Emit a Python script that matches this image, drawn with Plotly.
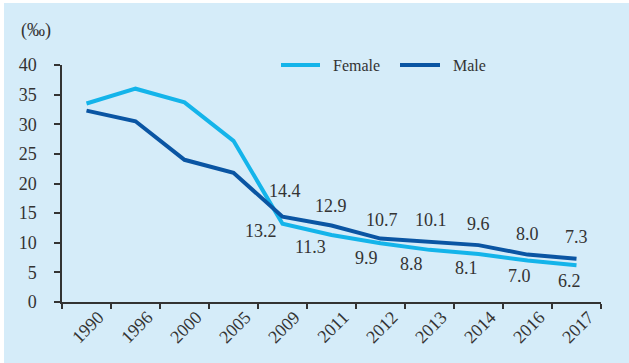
import plotly.graph_objects as go

# Infant mortality rate by sex (per mille)
years = ["1990", "1996", "2000", "2005", "2009", "2011", "2012", "2013", "2014", "2016", "2017"]
female = [33.5, 36.0, 33.7, 27.2, 13.2, 11.3, 9.9, 8.8, 8.1, 7.0, 6.2]
male = [32.3, 30.5, 24.0, 21.8, 14.4, 12.9, 10.7, 10.1, 9.6, 8.0, 7.3]
y_ticks = [0, 5, 10, 15, 20, 25, 30, 35, 40]

# labels are shown from 2009 onward
first_labelled = 4
# pixel nudges for the value labels (x, y) relative to each point
female_label_shift = [(-22, -7), (-21, -12), (-14, -15), (-18, -14), (-12, -14), (-8, -15), (-7, -16)]
male_label_shift = [(2, 26), (-1, 20), (1, 19), (1, 22), (0, 21), (0, 21), (0, 22)]

FEMALE_COLOR = "#14B4EA"
MALE_COLOR = "#0A55A3"
BG = "#D5ECF9"
TEXT = "#333333"
FONT = "Liberation Serif"

# plot-area geometry in pixels
W, H = 629, 363
ML, MR, MT, MB = 62, 28, 65, 61
PW, PH = W - ML - MR, H - MT - MB


def px_to_paper_x(px):
    return (px - ML) / PW


def px_to_paper_y(py):
    return (H - MB - py) / PH


pos = list(range(len(years)))
boundaries = [p - 0.5 for p in pos] + [pos[-1] + 0.5]

fig = go.Figure()
fig.add_trace(go.Scatter(x=pos, y=female, mode="lines", name="Female",
                         line=dict(color=FEMALE_COLOR, width=4)))
fig.add_trace(go.Scatter(x=pos, y=male, mode="lines", name="Male",
                         line=dict(color=MALE_COLOR, width=4)))

annotations = []
for i, (p, v) in enumerate(zip(pos[first_labelled:], female[first_labelled:])):
    dx, dy = female_label_shift[i]
    annotations.append(dict(x=p, y=v, text=f"{v:.1f}", showarrow=False,
                            xshift=dx, yshift=dy, xanchor="center", yanchor="middle",
                            font=dict(family=FONT, size=18, color=TEXT)))
for i, (p, v) in enumerate(zip(pos[first_labelled:], male[first_labelled:])):
    dx, dy = male_label_shift[i]
    annotations.append(dict(x=p, y=v, text=f"{v:.1f}", showarrow=False,
                            xshift=dx, yshift=dy, xanchor="center", yanchor="middle",
                            font=dict(family=FONT, size=18, color=TEXT)))

# unit label above the y axis
annotations.append(dict(xref="paper", yref="paper", x=px_to_paper_x(36), y=px_to_paper_y(30),
                        text="(‰)", showarrow=False, xanchor="center", yanchor="middle",
                        font=dict(family=FONT, size=18, color=TEXT)))

# legend drawn as line swatches with labels
legend_items = [("Female", FEMALE_COLOR, 281, 320, 331), ("Male", MALE_COLOR, 400, 440, 451)]
shapes = []
for name, color, x0, x1, tx in legend_items:
    shapes.append(dict(type="line", xref="paper", yref="paper",
                       x0=px_to_paper_x(x0), x1=px_to_paper_x(x1),
                       y0=px_to_paper_y(65), y1=px_to_paper_y(65),
                       line=dict(color=color, width=4)))
    annotations.append(dict(xref="paper", yref="paper", x=px_to_paper_x(tx), y=px_to_paper_y(65),
                            text=name, showarrow=False, xanchor="left", yanchor="middle",
                            font=dict(family=FONT, size=16, color=TEXT)))

# thin white frame strips along the top and left edges
shapes.append(dict(type="rect", xref="paper", yref="paper", layer="below",
                   x0=px_to_paper_x(0), x1=px_to_paper_x(W), y0=px_to_paper_y(3), y1=px_to_paper_y(0),
                   fillcolor="white", line=dict(width=0)))
shapes.append(dict(type="rect", xref="paper", yref="paper", layer="below",
                   x0=px_to_paper_x(0), x1=px_to_paper_x(4), y0=px_to_paper_y(H), y1=px_to_paper_y(0),
                   fillcolor="white", line=dict(width=0)))

fig.update_layout(
    width=W, height=H,
    margin=dict(l=ML, r=MR, t=MT, b=MB, pad=0, autoexpand=False),
    paper_bgcolor=BG, plot_bgcolor=BG,
    showlegend=False,
    font=dict(family=FONT, color=TEXT),
    annotations=annotations,
    shapes=shapes,
)
fig.update_xaxes(range=[boundaries[0], boundaries[-1]], tickvals=pos, ticktext=years,
                 ticks="", showline=True, linecolor=TEXT, linewidth=1.5,
                 minor=dict(tickvals=boundaries, ticks="outside", ticklen=5,
                            tickcolor=TEXT, tickwidth=1.5, showgrid=False),
                 showgrid=False, zeroline=False, tickangle=-45, ticklabelshift=12,
                 ticklabelstandoff=-4, automargin=False,
                 tickfont=dict(family=FONT, size=18, color=TEXT))
fig.update_yaxes(range=[0, 40], tickvals=y_ticks, ticks="outside", ticklen=6,
                 tickcolor=TEXT, tickwidth=1.5, showline=True, linecolor=TEXT, linewidth=1.5,
                 showgrid=False, zeroline=False, ticklabelstandoff=14, automargin=False,
                 tickfont=dict(family=FONT, size=18, color=TEXT))

fig.write_html("out.html", config=dict(displayModeBar=False))
